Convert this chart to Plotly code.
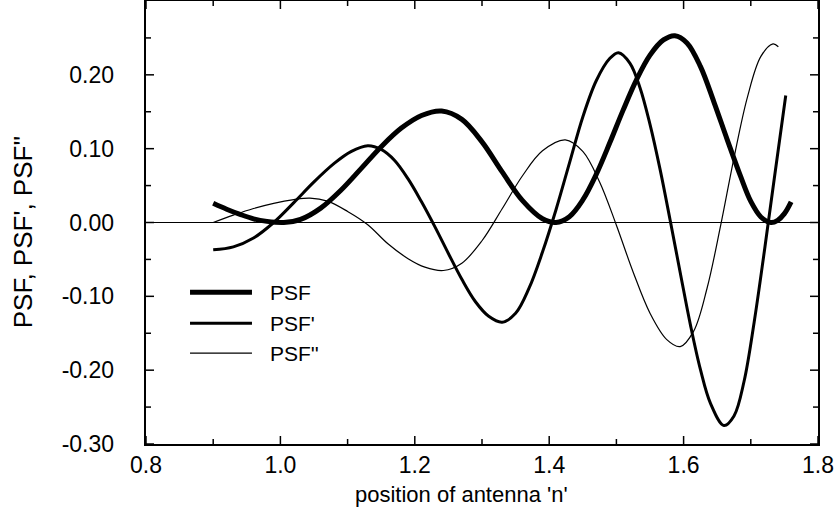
import plotly.graph_objects as go

# ---------------- data ----------------
psf_x = [0.90, 0.92, 0.94, 0.96, 0.98, 1.005, 1.03, 1.06, 1.09, 1.12, 1.15, 1.18, 1.21, 1.24,
         1.27, 1.30, 1.33, 1.36, 1.39, 1.41, 1.43, 1.45, 1.47, 1.49, 1.51, 1.53, 1.55, 1.57,
         1.587, 1.605, 1.625, 1.645, 1.665, 1.685, 1.70, 1.715, 1.73, 1.74, 1.75, 1.76]
psf_y = [0.026, 0.018, 0.011, 0.005, 0.0015, 0.0, 0.0042, 0.0195, 0.0437, 0.073, 0.1027,
         0.1279, 0.145, 0.151, 0.1397, 0.1092, 0.0685, 0.030, 0.0051, 0.0, 0.0079, 0.0306,
         0.0652, 0.1076, 0.1522, 0.1935, 0.2267, 0.2473, 0.253, 0.2432, 0.2115, 0.1635,
         0.112, 0.062, 0.0285, 0.0075, 0.0, 0.003, 0.012, 0.028]

psf1_x = [0.90, 0.93, 0.96, 0.99, 1.02, 1.05, 1.08, 1.105, 1.13, 1.15, 1.17, 1.19, 1.21,
          1.23, 1.25, 1.27, 1.29, 1.31, 1.33, 1.35, 1.37, 1.39, 1.41, 1.43, 1.45, 1.47,
          1.49, 1.503, 1.52, 1.535, 1.55, 1.565, 1.58, 1.595, 1.61, 1.625, 1.64, 1.66,
          1.675, 1.69, 1.705, 1.72, 1.735, 1.752]
psf1_y = [-0.037, -0.033, -0.021, 0.0, 0.027, 0.055, 0.080, 0.096, 0.104, 0.099, 0.084,
          0.059, 0.028, -0.006, -0.042, -0.077, -0.107, -0.127, -0.135, -0.123, -0.089,
          -0.040, 0.017, 0.080, 0.143, 0.192, 0.222, 0.230, 0.216, 0.183, 0.133, 0.072,
          0.003, -0.068, -0.138, -0.199, -0.245, -0.275, -0.262, -0.215, -0.135, -0.04,
          0.06, 0.172]

psf2_x = [0.90, 0.93, 0.96, 0.99, 1.02, 1.044, 1.07, 1.10, 1.13, 1.16, 1.19, 1.215, 1.2425,
          1.27, 1.30, 1.33, 1.36, 1.39, 1.424, 1.45, 1.475, 1.50, 1.525, 1.55, 1.575, 1.595,
          1.615, 1.635, 1.655, 1.675, 1.695, 1.715, 1.733, 1.741]
psf2_y = [0.0, 0.010, 0.019, 0.026, 0.031, 0.033, 0.0289, 0.015, -0.003, -0.0288, -0.049,
          -0.0605, -0.065, -0.0551, -0.0247, 0.0186, 0.063, 0.0971, 0.112, 0.0963, 0.0549,
          -0.0037, -0.0673, -0.1228, -0.1586, -0.168, -0.1471, -0.0887, -0.0046, 0.0876,
          0.1699, 0.225, 0.242, 0.238]

series_names = ["PSF", "PSF'", "PSF''"]
x_tick_vals = [0.8, 1.0, 1.2, 1.4, 1.6, 1.8]
x_tick_text = ["0.8", "1.0", "1.2", "1.4", "1.6", "1.8"]
x_minor_vals = [0.9, 1.1, 1.3, 1.5, 1.7]
y_tick_vals = [-0.30, -0.20, -0.10, 0.00, 0.10, 0.20]
y_tick_text = ["-0.30", "-0.20", "-0.10", "0.00", "0.10", "0.20"]
y_minor_vals = [-0.25, -0.15, -0.05, 0.05, 0.15, 0.25]

# ---------------- figure ----------------
FONT = "Liberation Sans, Arial, Helvetica, sans-serif"
widths = [5, 3, 1.2]
NBSP = "\u00a0"

fig = go.Figure()
for xs, ys, name, w in [(psf_x, psf_y, series_names[0], widths[0]),
                        (psf1_x, psf1_y, series_names[1], widths[1]),
                        (psf2_x, psf2_y, series_names[2], widths[2])]:
    fig.add_trace(go.Scatter(x=xs, y=ys, mode="lines", name=name,
                             line=dict(color="black", width=w, shape="spline", smoothing=1.0),
                             showlegend=False))

fig.update_xaxes(range=[0.8, 1.8], tickmode="array", tickvals=x_tick_vals, ticktext=x_tick_text,
                 showline=True, linecolor="black", linewidth=1.5, mirror=True,
                 ticks="", showgrid=False, zeroline=False, automargin=False,
                 tickfont=dict(family=FONT, size=23, color="black"))
fig.update_yaxes(range=[-0.30, 0.30], tickmode="array", tickvals=y_tick_vals,
                 ticktext=[t + NBSP * 4 for t in y_tick_text],
                 showline=True, linecolor="black", linewidth=1.5, mirror=True,
                 ticks="", showgrid=False, automargin=False,
                 zeroline=True, zerolinecolor="black", zerolinewidth=1,
                 tickfont=dict(family=FONT, size=23, color="black"))

# inward tick marks on all four sides (major + minor), placed on the axis scales
tick_line = dict(color="black", width=1.5)
for vals, ln in [(x_tick_vals, 8), (x_minor_vals, 5)]:
    for v in vals:
        fig.add_shape(type="line", xref="x", yref="paper", ysizemode="pixel", yanchor=0,
                      x0=v, x1=v, y0=0, y1=ln, line=tick_line)
        fig.add_shape(type="line", xref="x", yref="paper", ysizemode="pixel", yanchor=1,
                      x0=v, x1=v, y0=0, y1=-ln, line=tick_line)
for vals, ln in [(y_tick_vals, 8), (y_minor_vals, 5)]:
    for v in vals:
        fig.add_shape(type="line", xref="paper", yref="y", xsizemode="pixel", xanchor=0,
                      y0=v, y1=v, x0=0, x1=ln, line=tick_line)
        fig.add_shape(type="line", xref="paper", yref="y", xsizemode="pixel", xanchor=1,
                      y0=v, y1=v, x0=0, x1=-ln, line=tick_line)

# axis titles
fig.add_annotation(text="position of antenna 'n'", xref="paper", yref="paper",
                   x=0.47, y=-0.115, yanchor="middle", xanchor="center", showarrow=False,
                   font=dict(family=FONT, size=22, color="black"))
fig.add_annotation(text="PSF, PSF', PSF''", xref="paper", yref="paper",
                   x=-0.183, y=0.478, xanchor="center", yanchor="middle", textangle=-90,
                   showarrow=False, font=dict(family=FONT, size=26, color="black"))

# legend (drawn manually)
leg_y = [0.3423, 0.2725, 0.205]
for name, w, ly in zip(series_names, widths, leg_y):
    fig.add_shape(type="line", xref="paper", yref="paper", x0=0.0655, x1=0.1577,
                  y0=ly, y1=ly, line=dict(color="black", width=w))
    fig.add_annotation(text=name, xref="paper", yref="paper", x=0.1815, y=ly,
                       xanchor="left", yanchor="middle", showarrow=False,
                       font=dict(family=FONT, size=21, color="black"))

fig.update_layout(width=837, height=518, margin=dict(l=146, r=19, t=1, b=74),
                  paper_bgcolor="white", plot_bgcolor="white", showlegend=False)

fig.write_html("out.html", config={"displayModeBar": False},
               post_script="document.body.style.margin='0px';document.body.style.overflow='hidden';")
